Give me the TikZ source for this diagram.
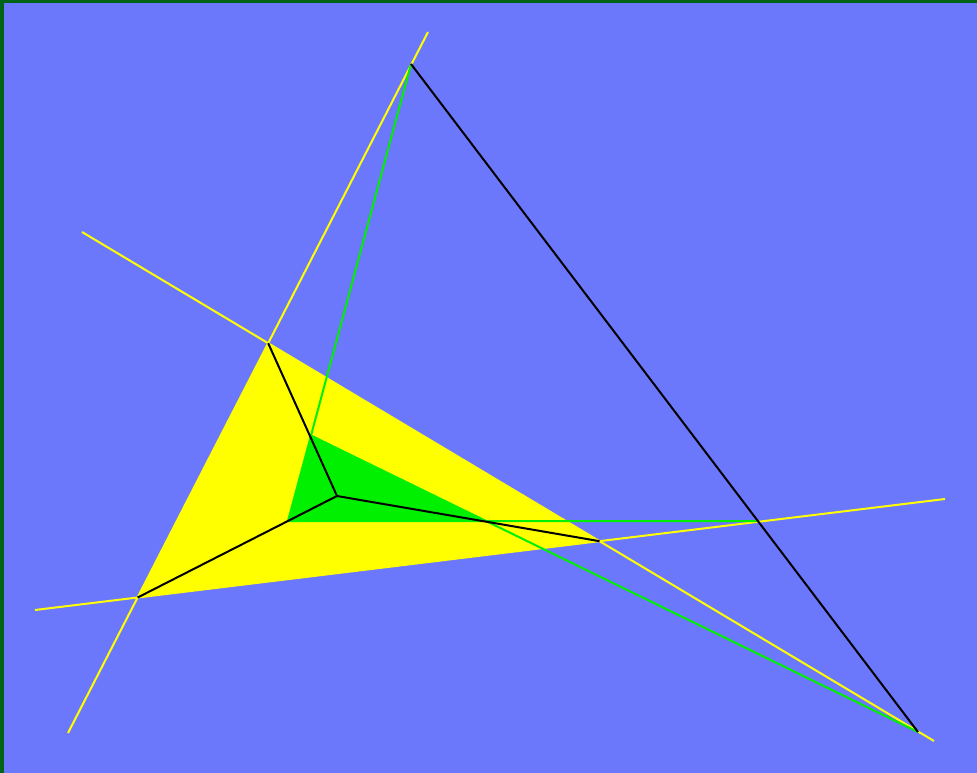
\documentclass[tikz,border=0pt]{standalone}
\definecolor{bgblue}{RGB}{108,120,252}
\definecolor{frame}{RGB}{0,100,22}
\definecolor{ylw}{RGB}{255,255,0}
\definecolor{grn}{RGB}{0,240,0}
\tikzset{
  yline/.style={draw=ylw,line width=2pt},
  gline/.style={draw=grn,line width=2pt},
  kline/.style={draw=black,line width=2pt},
}
\begin{document}
\begin{tikzpicture}[x=1pt,y=-1pt]
\useasboundingbox (0,0) rectangle (977,773);
\fill[frame] (0,0) rectangle (977,773);
\fill[bgblue] (4,3) rectangle (977,773);
% yellow line end points
\coordinate (L1a) at (428,32);
\coordinate (L1b) at (68,733);
\coordinate (L2a) at (82,232);
\coordinate (L2b) at (934,741);
\coordinate (L3a) at (35,610);
\coordinate (L3b) at (945,499);
\coordinate (Y1) at (intersection of L1a--L1b and L2a--L2b);
\coordinate (Y2) at (intersection of L1a--L1b and L3a--L3b);
\coordinate (Y3) at (intersection of L2a--L2b and L3a--L3b);
% big triangle points
\coordinate (P1) at (411,64);
\coordinate (P2) at (918,732);
\coordinate (H1) at (0,521);
\coordinate (H2) at (977,521);
\coordinate (P3) at (intersection of P1--P2 and H1--H2);
\coordinate (G2) at (288,521);
\coordinate (Q) at (310,435);
\coordinate (G1) at (intersection of P1--G2 and P2--Q);
\coordinate (G3) at (intersection of P2--Q and H1--H2);
\coordinate (O) at (337,496);
% fills
\fill[ylw] (Y1) -- (Y2) -- (Y3) -- cycle;
\fill[grn] (G1) -- (G2) -- (G3) -- cycle;
% yellow lines
\draw[yline] (L1a) -- (L1b);
\draw[yline] (L2a) -- (L2b);
\draw[yline] (L3a) -- (L3b);
% green lines
\draw[gline] (P1) -- (G2);
\draw[gline] (P2) -- (G1);
\draw[gline] (P3) -- (G2);
% black lines
\draw[kline] (P1) -- (P2);
\draw[kline] (O) -- (Y1);
\draw[kline] (O) -- (Y2);
\draw[kline] (O) -- (Y3);
\end{tikzpicture}
\end{document}
